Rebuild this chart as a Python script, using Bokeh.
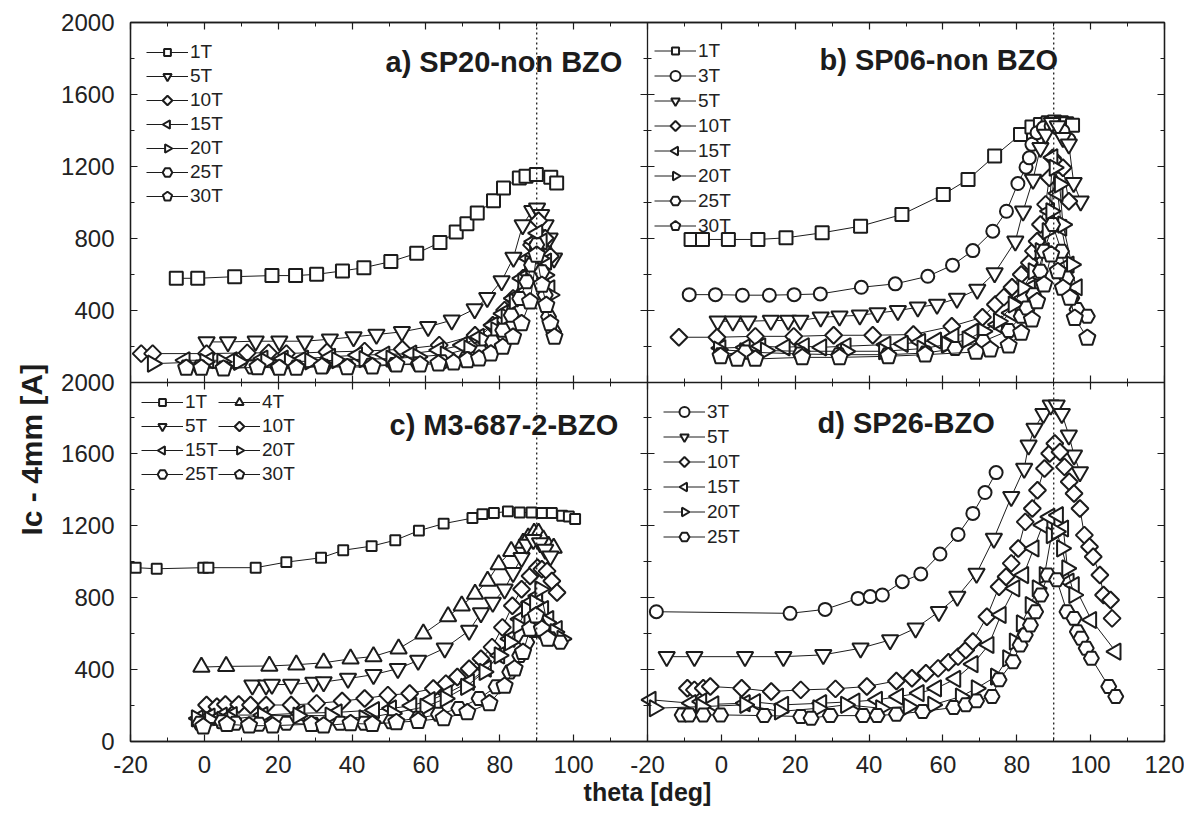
from math import pi
from bokeh.plotting import figure
from bokeh.models import (Range1d, LinearAxis, FixedTicker, Span, Label, Legend,
                          LegendItem, ColumnDataSource, Ngon, Title)
from bokeh.embed import file_html
from bokeh.resources import INLINE

# ---------------- data (theta [deg], Ic [A]) ----------------
# a) SP20-non BZO
A_1T_x = [-7.6, -1.8, 8.2, 18.3, 24.7, 30.4, 37.4, 43.2, 50.5, 57.5, 63.8, 68.2, 71.1, 73.9, 78.3, 81.0, 85.3, 87.1, 89.9, 93.8, 95.4]
A_1T_y = [577, 577, 586, 592, 592, 599, 618, 636, 670, 716, 776, 834, 880, 940, 1008, 1079, 1135, 1144, 1154, 1139, 1107]
A_5T_x = [0.6, 6.4, 13.9, 20.3, 27.2, 34.0, 40.4, 46.6, 53.5, 60.6, 67.0, 73.2, 76.6, 80.5, 83.7, 86.2, 88.8, 90.1, 91.2, 92.4, 93.5, 94.7]
A_5T_y = [223, 223, 227, 227, 227, 238, 251, 264, 279, 307, 344, 406, 469, 562, 692, 874, 953, 967, 930, 874, 800, 688]
A_10T_x = [-17.1, -14.0, 0.6, 11.6, 17.4, 22.2, 33.2, 43.4, 53.6, 63.6, 73.3, 78.1, 81.3, 83.6, 86.3, 88.6, 90.5, 92.3, 93.7]
A_10T_y = [158, 158, 158, 162, 162, 158, 167, 172, 182, 205, 260, 316, 400, 465, 577, 763, 897, 800, 700]
A_15T_x = [-5.3, 1.1, 7.5, 15.8, 21.3, 26.8, 34.1, 41.4, 48.8, 56.1, 63.4, 69.8, 74.4, 78.1, 80.8, 83.6, 85.9, 87.7, 89.1, 90.2, 91.4, 92.6, 93.5]
A_15T_y = [121, 121, 121, 130, 130, 130, 140, 149, 153, 158, 177, 205, 251, 316, 381, 465, 577, 688, 781, 828, 781, 670, 521]
A_20T_x = [-14.0, 0.2, 4.8, 9.3, 16.7, 23.1, 28.6, 35.9, 43.3, 50.6, 57.9, 65.3, 71.7, 75.8, 79.0, 81.8, 84.0, 86.3, 88.2, 89.5, 90.9, 92.3, 93.7]
A_20T_y = [102, 112, 112, 112, 115, 115, 115, 121, 127, 130, 140, 153, 186, 233, 288, 363, 447, 558, 660, 735, 688, 595, 484]
A_25T_x = [-4.9, -1.2, 5.2, 13.0, 19.9, 24.9, 32.3, 38.7, 45.1, 51.5, 57.9, 64.3, 70.8, 74.9, 78.1, 80.8, 83.1, 85.4, 87.3, 88.6, 90.0, 91.4, 92.3, 93.2, 94.6]
A_25T_y = [84, 84, 78, 84, 84, 84, 87, 89, 93, 97, 102, 112, 130, 167, 223, 288, 372, 465, 558, 651, 763, 614, 484, 363, 279]
A_30T_x = [-4.9, -0.8, 5.2, 14.4, 20.3, 24.9, 31.8, 38.7, 45.5, 52.0, 58.4, 63.4, 67.5, 71.2, 74.4, 77.6, 80.8, 83.6, 85.9, 88.2, 90.0, 91.4, 92.6, 93.7, 94.8]
A_30T_y = [78, 78, 74, 82, 78, 78, 86, 82, 86, 97, 97, 102, 108, 121, 130, 158, 195, 251, 326, 447, 707, 540, 428, 326, 251]

# b) SP06-non BZO
B_1T_x = [-8.2, -5.1, 1.9, 9.9, 17.5, 27.3, 37.7, 48.9, 60.1, 66.8, 74.0, 81.0, 84.1, 86.4, 88.5, 90.2, 92.1, 93.5, 95.1]
B_1T_y = [793, 793, 793, 793, 802, 830, 867, 932, 1043, 1127, 1257, 1377, 1418, 1433, 1442, 1446, 1442, 1437, 1429]
B_3T_x = [-8.7, -1.6, 5.7, 13.0, 19.7, 26.8, 37.9, 47.1, 55.9, 62.6, 68.1, 73.5, 77.2, 80.3, 82.5, 83.4, 84.1, 85.5, 87.2, 89.3, 91.1, 92.5, 94.1]
B_3T_y = [486, 486, 483, 483, 486, 490, 527, 546, 588, 650, 731, 839, 950, 1104, 1195, 1247, 1322, 1387, 1414, 1424, 1414, 1396, 1349]
B_5T_x = [-1.0, 3.1, 7.3, 13.4, 18.1, 21.4, 26.9, 32.0, 37.5, 42.3, 47.8, 53.2, 58.4, 63.8, 69.3, 74.0, 79.6, 81.7, 84.4, 86.4, 87.8, 89.5, 91.1, 92.5, 94.1, 95.4, 97.3]
B_5T_y = [338, 338, 338, 342, 342, 342, 360, 366, 371, 384, 397, 416, 431, 464, 514, 607, 783, 950, 1127, 1303, 1377, 1442, 1424, 1359, 1322, 1108, 1006]
B_10T_x = [-11.5, -1.2, 9.2, 19.6, 30.4, 41.0, 52.0, 62.4, 70.7, 74.2, 76.5, 78.7, 81.2, 83.4, 84.5, 85.5, 86.4, 87.8, 88.8, 89.7, 91.1, 92.5, 94.1]
B_10T_y = [249, 249, 254, 254, 260, 260, 264, 310, 360, 431, 472, 527, 598, 663, 728, 783, 876, 988, 1136, 1247, 1210, 1192, 1006]
B_15T_x = [-0.2, 6.4, 10.6, 17.2, 22.4, 27.1, 33.7, 44.5, 49.2, 53.9, 58.2, 62.9, 68.1, 74.7, 78.4, 81.7, 83.6, 85.5, 87.4, 88.8, 89.7, 91.1, 92.1, 94.1, 96.3]
B_15T_y = [189, 193, 199, 193, 199, 193, 199, 208, 212, 223, 230, 254, 279, 319, 384, 468, 523, 598, 728, 950, 1250, 1050, 858, 653, 527]
B_20T_x = [-0.7, 6.4, 12.0, 21.4, 33.7, 44.0, 54.4, 61.0, 66.6, 70.9, 75.1, 79.1, 81.7, 84.5, 86.4, 88.3, 89.3, 90.2, 91.6, 92.5, 94.9]
B_20T_y = [180, 171, 175, 171, 171, 171, 186, 208, 236, 282, 338, 431, 523, 616, 728, 839, 950, 1192, 1099, 876, 653]
B_25T_x = [-0.2, 6.4, 21.4, 31.8, 45.0, 55.3, 63.3, 70.9, 77.8, 81.2, 82.7, 84.5, 86.4, 87.4, 89.7, 92.1, 93.5, 94.9, 96.3, 99.1]
B_25T_y = [152, 167, 156, 152, 152, 161, 186, 226, 286, 366, 412, 486, 616, 728, 876, 728, 579, 468, 403, 366]
B_30T_x = [-0.2, 4.3, 9.2, 21.9, 32.0, 45.2, 55.2, 69.0, 72.8, 77.8, 81.2, 84.1, 85.5, 87.4, 89.3, 91.1, 92.5, 94.4, 95.7, 99.1]
B_30T_y = [143, 128, 128, 137, 137, 143, 152, 167, 180, 202, 273, 347, 449, 542, 709, 616, 523, 468, 356, 245]

# c) M3-687-2-BZO
C_1T_x = [-18.6, -12.9, -0.3, 1.1, 13.9, 22.2, 31.6, 37.6, 45.3, 51.7, 58.1, 64.8, 72.6, 75.3, 78.4, 82.2, 85.4, 88.6, 91.4, 94.1, 96.9, 98.7, 100.4]
C_1T_y = [967, 961, 967, 967, 967, 998, 1022, 1064, 1087, 1120, 1173, 1212, 1243, 1265, 1271, 1280, 1274, 1274, 1271, 1271, 1256, 1252, 1238]
C_4T_x = [-0.8, 5.9, 17.6, 24.9, 32.3, 39.6, 45.8, 52.6, 59.3, 66.0, 69.7, 73.3, 76.7, 79.7, 83.1, 86.3, 87.7, 89.3, 90.5, 91.8, 93.2, 94.6]
C_4T_y = [414, 418, 420, 427, 438, 460, 473, 516, 599, 696, 755, 820, 893, 985, 1059, 1105, 1133, 1160, 1160, 1123, 1087, 1077]
C_5T_x = [13.0, 16.7, 18.3, 23.5, 29.5, 32.3, 38.9, 45.8, 52.4, 57.9, 65.1, 71.7, 74.9, 78.1, 81.3, 83.6, 85.9, 87.3, 89.1, 90.9, 92.3, 93.7]
C_5T_y = [313, 313, 317, 317, 328, 331, 350, 372, 405, 451, 519, 617, 715, 773, 847, 939, 1022, 1096, 1123, 1105, 1068, 1031]
C_10T_x = [0.6, 3.4, 5.7, 9.3, 12.5, 16.7, 23.5, 30.4, 37.3, 43.4, 49.7, 55.6, 62.0, 65.4, 68.5, 71.7, 74.9, 77.9, 80.7, 83.4, 85.9, 88.2, 90.2, 91.4, 92.8, 94.1, 95.5]
C_10T_y = [203, 193, 206, 206, 203, 203, 203, 212, 225, 239, 258, 267, 295, 322, 359, 405, 460, 525, 635, 755, 847, 921, 967, 958, 948, 893, 829]
C_15T_x = [-1.7, 1.5, 4.8, 7.5, 15.8, 25.8, 35.9, 46.0, 50.6, 56.1, 61.1, 65.7, 71.7, 76.3, 79.9, 82.7, 85.4, 88.2, 90.2, 91.8, 93.2, 95.5]
C_15T_y = [129, 138, 144, 147, 147, 157, 162, 175, 184, 199, 230, 267, 331, 405, 479, 571, 681, 773, 810, 737, 681, 626]
C_20T_x = [-2.1, 1.5, 4.8, 7.5, 15.8, 25.4, 34.1, 43.3, 51.0, 59.8, 65.3, 70.8, 75.8, 79.9, 82.7, 85.0, 87.3, 89.5, 90.9, 92.8, 95.0, 96.9]
C_20T_y = [129, 120, 120, 125, 144, 144, 144, 129, 157, 193, 239, 304, 387, 479, 552, 645, 737, 773, 847, 663, 608, 571]
C_25T_x = [-1.2, 4.8, 8.4, 14.8, 22.2, 29.5, 36.8, 43.3, 50.6, 57.9, 63.4, 68.9, 74.4, 79.0, 82.7, 85.4, 87.3, 89.1, 90.5, 91.8, 93.7, 96.4]
C_25T_y = [101, 110, 101, 96, 101, 96, 101, 101, 110, 129, 151, 184, 239, 304, 387, 479, 552, 617, 654, 608, 571, 552]
C_30T_x = [-0.3, 6.1, 12.1, 18.5, 29.0, 32.3, 39.6, 45.5, 52.0, 57.9, 64.8, 71.2, 77.2, 81.3, 84.0, 86.3, 88.2, 89.8, 91.4, 93.0]
C_30T_y = [83, 96, 88, 88, 96, 88, 101, 96, 107, 114, 129, 162, 212, 309, 405, 497, 626, 700, 626, 571]

# d) SP26-BZO
D_3T_x = [-17.6, 18.6, 28.1, 37.0, 40.3, 43.6, 49.0, 54.0, 59.2, 64.1, 68.1, 71.4, 74.4]
D_3T_y = [722, 713, 735, 796, 806, 815, 889, 932, 1043, 1152, 1269, 1385, 1496]
D_5T_x = [-14.8, -7.3, 6.4, 16.8, 27.6, 37.7, 45.7, 52.6, 58.9, 63.9, 69.1, 73.8, 78.5, 82.0, 83.2, 84.8, 87.2, 89.2, 90.8, 92.2, 94.1, 95.5, 97.1]
D_5T_y = [472, 472, 472, 472, 482, 519, 565, 630, 722, 806, 935, 1130, 1361, 1519, 1648, 1741, 1824, 1871, 1871, 1824, 1704, 1593, 1500]
D_10T_x = [-9.2, -7.3, -4.9, -3.0, 5.5, 13.5, 21.5, 30.9, 39.4, 47.4, 51.6, 55.4, 58.7, 61.5, 64.1, 66.2, 68.1, 71.9, 75.2, 77.1, 78.5, 80.4, 82.3, 84.2, 85.6, 87.5, 88.9, 90.3, 91.7, 92.9, 94.2, 95.5, 97.1, 98.3, 99.7, 100.7, 102.5, 103.5, 105.4, 105.8]
D_10T_y = [296, 287, 296, 306, 296, 278, 287, 293, 306, 337, 352, 380, 407, 441, 472, 509, 556, 694, 861, 917, 991, 1074, 1222, 1296, 1398, 1519, 1602, 1658, 1611, 1528, 1445, 1380, 1296, 1148, 1083, 1028, 926, 815, 787, 685]
D_15T_x = [-19.1, -8.2, -5.4, -2.1, 6.4, 9.2, 16.8, 27.1, 36.1, 42.2, 47.9, 53.5, 58.2, 63.4, 68.1, 72.4, 75.7, 79.4, 81.8, 84.6, 87.0, 88.9, 91.2, 92.6, 94.1, 95.5, 100.2, 106.8]
D_15T_y = [232, 213, 222, 207, 213, 219, 204, 213, 222, 232, 250, 269, 296, 348, 430, 537, 704, 852, 926, 1074, 1204, 1250, 1259, 1185, 889, 870, 676, 500]
D_20T_x = [-18.1, -5.4, 6.4, 15.8, 26.2, 33.7, 43.2, 50.7, 57.3, 64.8, 69.1, 74.3, 77.6, 79.4, 81.3, 83.7, 85.6, 87.5, 89.4, 90.8, 92.2, 93.6, 95.5]
D_20T_y = [185, 194, 204, 167, 185, 204, 185, 194, 204, 250, 296, 361, 463, 556, 657, 759, 852, 926, 1148, 1167, 1074, 963, 815]
D_25T_x = [-10.6, -8.7, -4.9, -0.2, 11.6, 21.5, 24.3, 29.5, 38.4, 42.2, 47.4, 54.5, 62.9, 66.2, 69.1, 73.3, 75.2, 79.0, 80.9, 82.3, 83.7, 85.1, 86.5, 88.4, 90.8, 93.6, 95.5, 96.4, 97.4, 98.8, 100.2, 104.9, 106.8]
D_25T_y = [148, 148, 148, 148, 144, 139, 130, 144, 144, 144, 152, 167, 189, 204, 226, 250, 343, 444, 537, 593, 648, 722, 815, 926, 900, 722, 685, 611, 574, 519, 463, 306, 250]

# axis tick labels
X_TICKS_LEFT = [-20, 0, 20, 40, 60, 80, 100]
X_TICKS_RIGHT = [-20, 0, 20, 40, 60, 80, 100, 120]
Y_TICKS_TOP = [400, 800, 1200, 1600, 2000]
Y_TICKS_BOTTOM = [0, 400, 800, 1200, 1600, 2000]

TITLES = ["a) SP20-non BZO", "b) SP06-non BZO", "c) M3-687-2-BZO", "d) SP26-BZO"]
X_TITLE = "theta [deg]"
Y_TITLE = "Ic - 4mm [A]"

# ---------------- one figure, four panels share its frame ----------------
INK = "#1c1c1c"
FONT = "Liberation Sans"
X_SHIFT = 140      # right panel offset inside the shared "left" x range
Y_SHIFT = 2000     # top panel offset inside the shared "bottom" y range

p = figure(width=1184, height=812, output_backend="svg", toolbar_location=None,
           x_range=Range1d(-20, 260), y_range=Range1d(0, 4000),
           x_axis_type=None, y_axis_type=None,
           min_border_left=130, min_border_right=20, min_border_top=22, min_border_bottom=71)
p.extra_x_ranges = {"left": Range1d(-20, 260), "right": Range1d(-160, 120)}
p.extra_y_ranges = {"top": Range1d(-2000, 2000), "bottom": Range1d(0, 4000)}
p.outline_line_color = INK
p.outline_line_width = 1.3
p.background_fill_color = "white"
p.border_fill_color = "white"

xt_major = X_TICKS_LEFT + [v + X_SHIFT for v in X_TICKS_RIGHT]
xt_minor = [v + 10 for v in range(-20, 260, 20)]
yt_major = Y_TICKS_BOTTOM + [v + Y_SHIFT for v in Y_TICKS_TOP]
yt_minor = [v + 200 for v in range(0, 4000, 400)]
x_over = {v: str(v) for v in X_TICKS_LEFT}
x_over.update({v + X_SHIFT: str(v) for v in X_TICKS_RIGHT})
y_over = {v: str(v) for v in Y_TICKS_BOTTOM}
y_over.update({v + Y_SHIFT: str(v) for v in Y_TICKS_TOP})


def style_axis(ax, labels, size, standoff, both=False):
    ax.axis_line_color = INK
    ax.axis_line_width = 1.3
    ax.major_tick_line_color = INK
    ax.minor_tick_line_color = INK
    ax.major_tick_line_width = 1.2
    ax.minor_tick_line_width = 1.0
    ax.major_tick_in = 7
    ax.minor_tick_in = 4
    ax.major_tick_out = 7 if both else 0
    ax.minor_tick_out = 4 if both else 0
    if labels:
        ax.major_label_text_font = FONT
        ax.major_label_text_font_size = size
        ax.major_label_text_color = "#222222"
        ax.major_label_standoff = standoff
    else:
        ax.major_label_text_font_size = "0px"
        ax.major_label_text_color = None
        ax.major_label_standoff = 0


def xaxis(labels, both=False, loc=None):
    ax = LinearAxis(x_range_name="left", y_range_name="bottom",
                    ticker=FixedTicker(ticks=xt_major, minor_ticks=xt_minor),
                    major_label_overrides=x_over)
    if loc is not None:
        ax.fixed_location = loc
    style_axis(ax, labels, "24px", 14, both=both)
    return ax


def yaxis(labels, both=False, loc=None):
    ax = LinearAxis(x_range_name="left", y_range_name="bottom",
                    ticker=FixedTicker(ticks=yt_major, minor_ticks=yt_minor),
                    major_label_overrides=y_over)
    if loc is not None:
        ax.fixed_location = loc
    style_axis(ax, labels, "24px", 16, both=both)
    return ax


bottom_axis = xaxis(True)
bottom_axis.axis_label = X_TITLE
bottom_axis.axis_label_text_font = FONT
bottom_axis.axis_label_text_font_style = "bold"
bottom_axis.axis_label_text_font_size = "25px"
bottom_axis.axis_label_text_color = INK
bottom_axis.axis_label_standoff = 2
p.add_layout(bottom_axis, "below")
p.add_layout(xaxis(False), "above")
p.add_layout(yaxis(True), "left")
p.add_layout(yaxis(False), "right")
p.add_layout(yaxis(False, both=True, loc=120), "left")      # boundary a|b and c|d
p.add_layout(xaxis(False, both=True, loc=2000), "below")    # boundary a/c and b/d

# y axis title, placed along the left side
p.add_layout(Title(text=Y_TITLE, align="left", offset=206, standoff=22,
                   text_font=FONT, text_font_style="bold", text_font_size="30px",
                   text_color=INK), "left")

# dotted lines at 90 deg
p.add_layout(Span(location=90, dimension="height", x_range_name="left",
                  line_color=INK, line_dash="2 3", line_width=1.3))
p.add_layout(Span(location=90, dimension="height", x_range_name="right",
                  line_color=INK, line_dash="2 3", line_width=1.3))

# polygon markers: (number of corners, radius px, rotation)
POLY = {
    "square":    (4, 9.2, pi / 4),
    "square_s":  (4, 7.0, pi / 4),
    "diamond":   (4, 8.5, 0.0),
    "tri_up":    (3, 9.5, 0.0),
    "tri_down":  (3, 9.5, pi),
    "tri_left":  (3, 9.5, pi / 2),
    "tri_right": (3, 9.5, -pi / 2),
    "hex":       (6, 7.5, pi / 6),
    "pentagon":  (5, 8.5, 0.0),
}


def draw(xs, ys, kind, xr, yr):
    src = ColumnDataSource(dict(x=xs, y=ys))
    ln = p.line("x", "y", source=src, line_color=INK, line_width=1.0,
                x_range_name=xr, y_range_name=yr)
    if kind == "circle":
        mk = p.scatter("x", "y", source=src, marker="circle", size=13,
                       fill_color="white", line_color=INK, line_width=2,
                       x_range_name=xr, y_range_name=yr)
    else:
        n, r, a = POLY[kind]
        g = Ngon(x="x", y="y", radius=r, radius_units="screen", n=n, angle=a,
                 fill_color="white", line_color=INK, line_width=2)
        mk = p.add_glyph(src, g, x_range_name=xr, y_range_name=yr)
    return [ln, mk]


def make_legend(entries, loc, gh, ncols=1, label_width=20):
    items = [LegendItem(label=lab, renderers=rs) for lab, rs in entries]
    leg = Legend(items=items, location=loc, glyph_width=42, glyph_height=gh,
                 label_height=gh, spacing=0, padding=0, margin=0,
                 label_standoff=2, label_width=label_width, ncols=ncols,
                 border_line_color=None, background_fill_alpha=0,
                 label_text_font=FONT, label_text_font_size="19px",
                 label_text_color="#222222")
    p.add_layout(leg)


# panel a
ea = [("1T", draw(A_1T_x, A_1T_y, "square", "left", "top")),
      ("5T", draw(A_5T_x, A_5T_y, "tri_down", "left", "top")),
      ("10T", draw(A_10T_x, A_10T_y, "diamond", "left", "top")),
      ("15T", draw(A_15T_x, A_15T_y, "tri_left", "left", "top")),
      ("20T", draw(A_20T_x, A_20T_y, "tri_right", "left", "top")),
      ("25T", draw(A_25T_x, A_25T_y, "hex", "left", "top")),
      ("30T", draw(A_30T_x, A_30T_y, "pentagon", "left", "top"))]
make_legend(ea, (16, 533), 24)

# panel b
eb = [("1T", draw(B_1T_x, B_1T_y, "square", "right", "top")),
      ("3T", draw(B_3T_x, B_3T_y, "circle", "right", "top")),
      ("5T", draw(B_5T_x, B_5T_y, "tri_down", "right", "top")),
      ("10T", draw(B_10T_x, B_10T_y, "diamond", "right", "top")),
      ("15T", draw(B_15T_x, B_15T_y, "tri_left", "right", "top")),
      ("20T", draw(B_20T_x, B_20T_y, "tri_right", "right", "top")),
      ("25T", draw(B_25T_x, B_25T_y, "hex", "right", "top")),
      ("30T", draw(B_30T_x, B_30T_y, "pentagon", "right", "top"))]
make_legend(eb, (524, 503), 25)

# panel c (two columns, filled column by column)
c_1 = draw(C_1T_x, C_1T_y, "square_s", "left", "bottom")
c_4 = draw(C_4T_x, C_4T_y, "tri_up", "left", "bottom")
c_5 = draw(C_5T_x, C_5T_y, "tri_down", "left", "bottom")
c_10 = draw(C_10T_x, C_10T_y, "diamond", "left", "bottom")
c_15 = draw(C_15T_x, C_15T_y, "tri_left", "left", "bottom")
c_20 = draw(C_20T_x, C_20T_y, "tri_right", "left", "bottom")
c_25 = draw(C_25T_x, C_25T_y, "hex", "left", "bottom")
c_30 = draw(C_30T_x, C_30T_y, "pentagon", "left", "bottom")
ec = [("1T", c_1), ("5T", c_5), ("15T", c_15), ("25T", c_25),
      ("4T", c_4), ("10T", c_10), ("20T", c_20), ("30T", c_30)]
make_legend(ec, (11, 255), 24, ncols=2, label_width=33)

# panel d
ed = [("3T", draw(D_3T_x, D_3T_y, "circle", "right", "bottom")),
      ("5T", draw(D_5T_x, D_5T_y, "tri_down", "right", "bottom")),
      ("10T", draw(D_10T_x, D_10T_y, "diamond", "right", "bottom")),
      ("15T", draw(D_15T_x, D_15T_y, "tri_left", "right", "bottom")),
      ("20T", draw(D_20T_x, D_20T_y, "tri_right", "right", "bottom")),
      ("25T", draw(D_25T_x, D_25T_y, "hex", "right", "bottom"))]
make_legend(ed, (533, 192), 25)

# panel titles (screen offsets from the frame's bottom-left corner)
for txt, sx, sy in zip(TITLES, [255, 689, 259, 687], [679.5, 681.5, 317, 319]):
    p.add_layout(Label(x=sx, y=sy, x_units="screen", y_units="screen", text=txt,
                       text_font=FONT, text_font_style="bold", text_font_size="29px",
                       text_color=INK, text_align="left", text_baseline="middle"))

open("out.html", "w").write(file_html(p, INLINE))
